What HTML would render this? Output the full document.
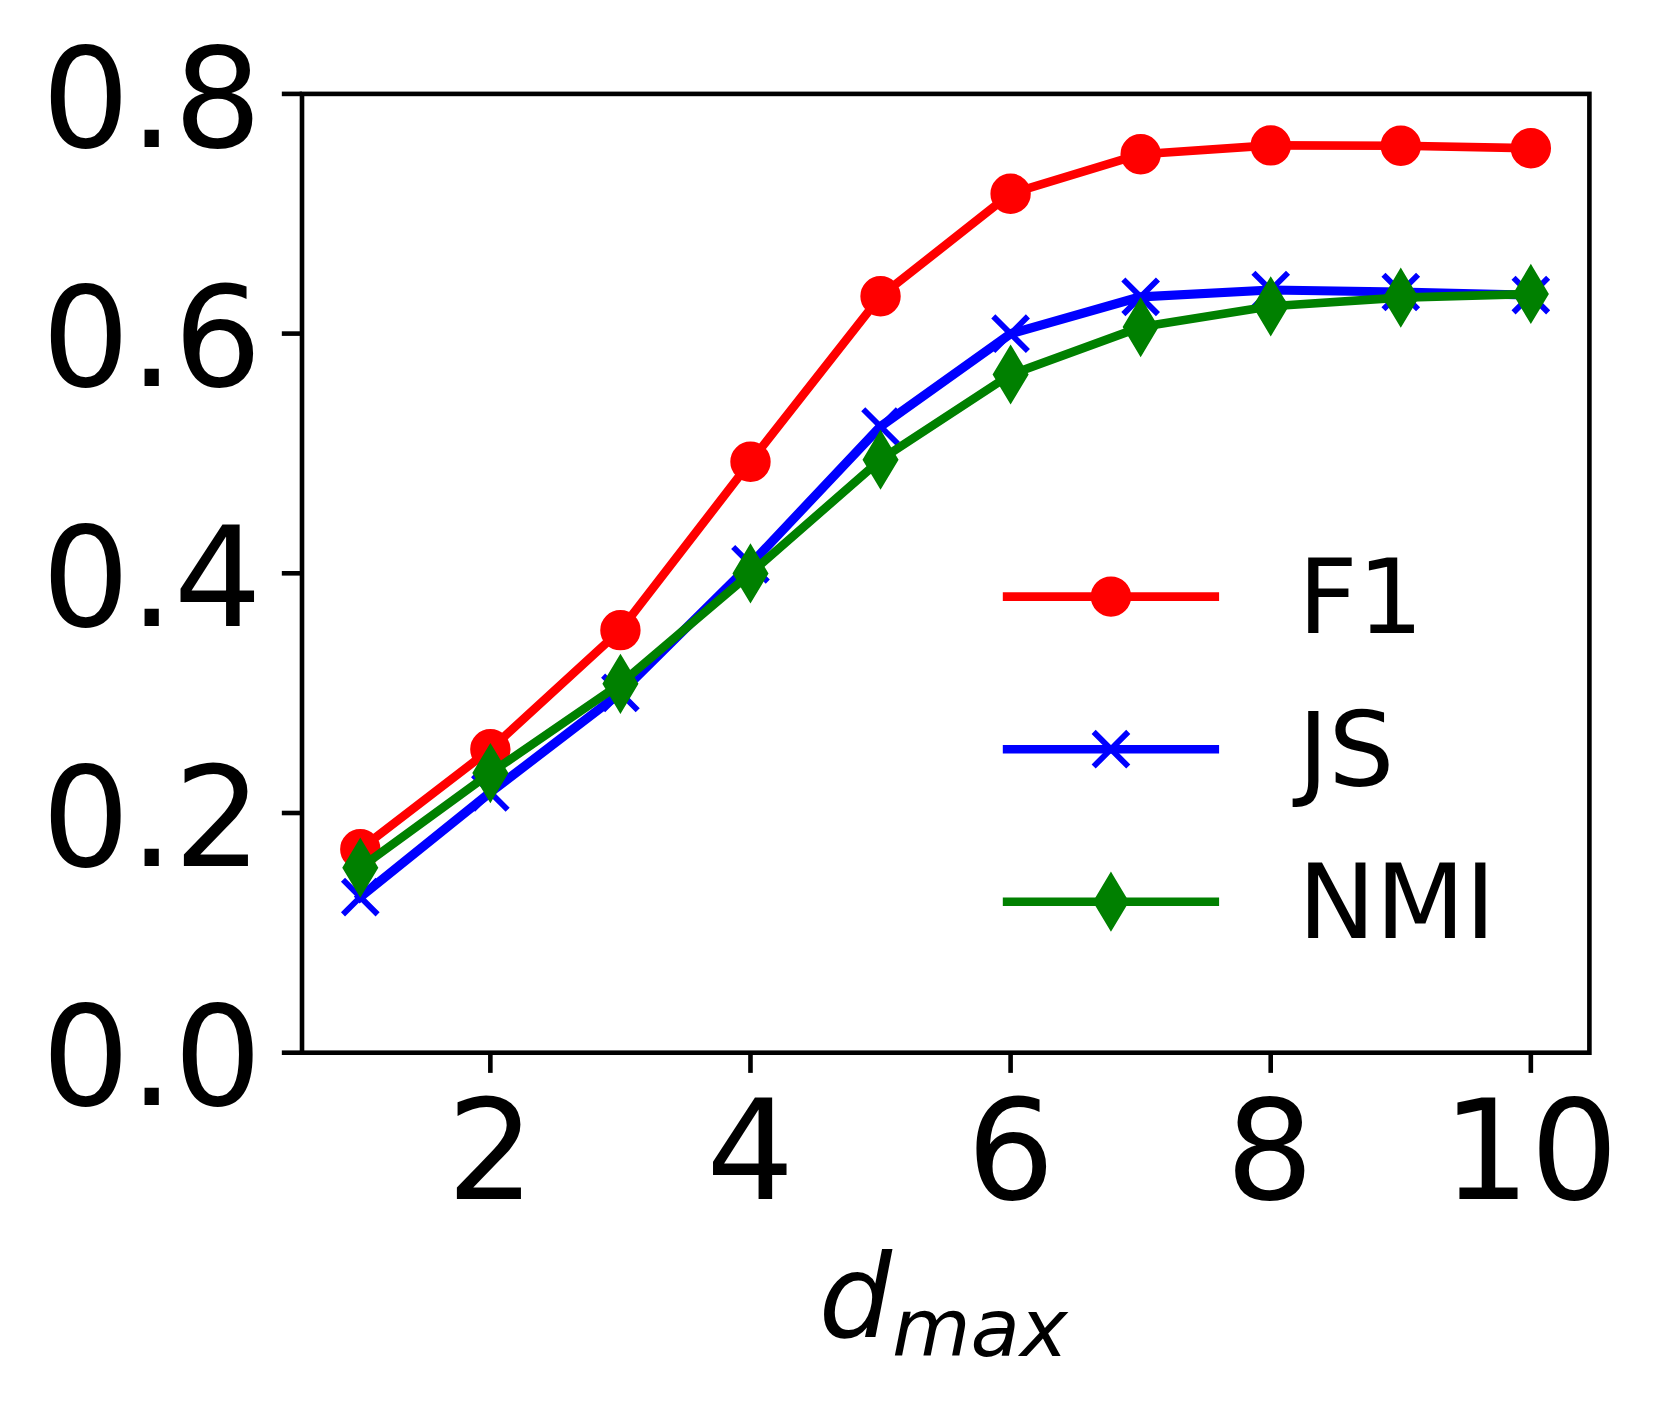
<!DOCTYPE html>
<html lang="en"><head><meta charset="utf-8"><title>d_max chart</title>
<style>html,body{margin:0;padding:0;background:#fff}svg{display:block}</style></head>
<body>
<svg width="1660" height="1407" viewBox="0 0 1660 1407">
<rect width="1660" height="1407" fill="#fff"/>
<g id="series">
<polyline points="360.30,849.30 490.36,749.30 620.42,630.15 750.48,461.70 880.54,296.20 1010.60,193.70 1140.66,154.20 1270.72,145.40 1400.78,145.80 1530.84,148.20" fill="none" stroke="#ff0000" stroke-width="8.65" stroke-linejoin="round" stroke-linecap="square"/>
<circle cx="360.30" cy="849.30" r="17.30" fill="#ff0000" stroke="#ff0000" stroke-width="5.77"/>
<circle cx="490.36" cy="749.30" r="17.30" fill="#ff0000" stroke="#ff0000" stroke-width="5.77"/>
<circle cx="620.42" cy="630.15" r="17.30" fill="#ff0000" stroke="#ff0000" stroke-width="5.77"/>
<circle cx="750.48" cy="461.70" r="17.30" fill="#ff0000" stroke="#ff0000" stroke-width="5.77"/>
<circle cx="880.54" cy="296.20" r="17.30" fill="#ff0000" stroke="#ff0000" stroke-width="5.77"/>
<circle cx="1010.60" cy="193.70" r="17.30" fill="#ff0000" stroke="#ff0000" stroke-width="5.77"/>
<circle cx="1140.66" cy="154.20" r="17.30" fill="#ff0000" stroke="#ff0000" stroke-width="5.77"/>
<circle cx="1270.72" cy="145.40" r="17.30" fill="#ff0000" stroke="#ff0000" stroke-width="5.77"/>
<circle cx="1400.78" cy="145.80" r="17.30" fill="#ff0000" stroke="#ff0000" stroke-width="5.77"/>
<circle cx="1530.84" cy="148.20" r="17.30" fill="#ff0000" stroke="#ff0000" stroke-width="5.77"/>
<polyline points="360.30,897.10 490.36,792.40 620.42,692.95 750.48,564.30 880.54,426.50 1010.60,333.70 1140.66,296.80 1270.72,290.00 1400.78,292.00 1530.84,295.10" fill="none" stroke="#0000ff" stroke-width="9.20" stroke-linejoin="round" stroke-linecap="square"/>
<path d="M343.00 879.80L377.60 914.40M343.00 914.40L377.60 879.80" stroke="#0000ff" stroke-width="5.77" fill="none"/>
<path d="M473.06 775.10L507.66 809.70M473.06 809.70L507.66 775.10" stroke="#0000ff" stroke-width="5.77" fill="none"/>
<path d="M603.12 675.65L637.72 710.25M603.12 710.25L637.72 675.65" stroke="#0000ff" stroke-width="5.77" fill="none"/>
<path d="M733.18 547.00L767.78 581.60M733.18 581.60L767.78 547.00" stroke="#0000ff" stroke-width="5.77" fill="none"/>
<path d="M863.24 409.20L897.84 443.80M863.24 443.80L897.84 409.20" stroke="#0000ff" stroke-width="5.77" fill="none"/>
<path d="M993.30 316.40L1027.90 351.00M993.30 351.00L1027.90 316.40" stroke="#0000ff" stroke-width="5.77" fill="none"/>
<path d="M1123.36 279.50L1157.96 314.10M1123.36 314.10L1157.96 279.50" stroke="#0000ff" stroke-width="5.77" fill="none"/>
<path d="M1253.42 272.70L1288.02 307.30M1253.42 307.30L1288.02 272.70" stroke="#0000ff" stroke-width="5.77" fill="none"/>
<path d="M1383.48 274.70L1418.08 309.30M1383.48 309.30L1418.08 274.70" stroke="#0000ff" stroke-width="5.77" fill="none"/>
<path d="M1513.54 277.80L1548.14 312.40M1513.54 312.40L1548.14 277.80" stroke="#0000ff" stroke-width="5.77" fill="none"/>
<polyline points="360.30,867.70 490.36,773.05 620.42,683.80 750.48,573.40 880.54,459.70 1010.60,374.50 1140.66,327.10 1270.72,306.30 1400.78,297.65 1530.84,293.95" fill="none" stroke="#008000" stroke-width="8.65" stroke-linejoin="round" stroke-linecap="square"/>
<path d="M360.30 843.23L374.98 867.70L360.30 892.17L345.62 867.70Z" fill="#008000" stroke="#008000" stroke-width="5.77" stroke-linejoin="miter" stroke-miterlimit="10"/>
<path d="M490.36 748.58L505.04 773.05L490.36 797.52L475.68 773.05Z" fill="#008000" stroke="#008000" stroke-width="5.77" stroke-linejoin="miter" stroke-miterlimit="10"/>
<path d="M620.42 659.33L635.10 683.80L620.42 708.27L605.74 683.80Z" fill="#008000" stroke="#008000" stroke-width="5.77" stroke-linejoin="miter" stroke-miterlimit="10"/>
<path d="M750.48 548.93L765.16 573.40L750.48 597.87L735.80 573.40Z" fill="#008000" stroke="#008000" stroke-width="5.77" stroke-linejoin="miter" stroke-miterlimit="10"/>
<path d="M880.54 435.23L895.22 459.70L880.54 484.17L865.86 459.70Z" fill="#008000" stroke="#008000" stroke-width="5.77" stroke-linejoin="miter" stroke-miterlimit="10"/>
<path d="M1010.60 350.03L1025.28 374.50L1010.60 398.97L995.92 374.50Z" fill="#008000" stroke="#008000" stroke-width="5.77" stroke-linejoin="miter" stroke-miterlimit="10"/>
<path d="M1140.66 302.63L1155.34 327.10L1140.66 351.57L1125.98 327.10Z" fill="#008000" stroke="#008000" stroke-width="5.77" stroke-linejoin="miter" stroke-miterlimit="10"/>
<path d="M1270.72 281.83L1285.40 306.30L1270.72 330.77L1256.04 306.30Z" fill="#008000" stroke="#008000" stroke-width="5.77" stroke-linejoin="miter" stroke-miterlimit="10"/>
<path d="M1400.78 273.18L1415.46 297.65L1400.78 322.12L1386.10 297.65Z" fill="#008000" stroke="#008000" stroke-width="5.77" stroke-linejoin="miter" stroke-miterlimit="10"/>
<path d="M1530.84 269.48L1545.52 293.95L1530.84 318.42L1516.16 293.95Z" fill="#008000" stroke="#008000" stroke-width="5.77" stroke-linejoin="miter" stroke-miterlimit="10"/>
</g>
<g stroke="#000" stroke-width="4.61" fill="none">
<line x1="490.36" y1="1052.7" x2="490.36" y2="1072.88"/>
<line x1="750.48" y1="1052.7" x2="750.48" y2="1072.88"/>
<line x1="1010.60" y1="1052.7" x2="1010.60" y2="1072.88"/>
<line x1="1270.72" y1="1052.7" x2="1270.72" y2="1072.88"/>
<line x1="1530.84" y1="1052.7" x2="1530.84" y2="1072.88"/>
<line x1="302.0" y1="1052.70" x2="281.82" y2="1052.70"/>
<line x1="302.0" y1="813.00" x2="281.82" y2="813.00"/>
<line x1="302.0" y1="573.30" x2="281.82" y2="573.30"/>
<line x1="302.0" y1="333.60" x2="281.82" y2="333.60"/>
<line x1="302.0" y1="93.90" x2="281.82" y2="93.90"/>
<rect x="302.0" y="93.9" width="1287.40" height="958.80" stroke-linejoin="miter"/>
</g>
<g font-family="DejaVu Sans, Liberation Sans, sans-serif" font-size="138.41" fill="#000">
<text x="261.80" y="1105.30" text-anchor="end">0.0</text>
<text x="261.80" y="865.60" text-anchor="end">0.2</text>
<text x="261.80" y="625.90" text-anchor="end">0.4</text>
<text x="261.80" y="386.20" text-anchor="end">0.6</text>
<text x="261.80" y="146.50" text-anchor="end">0.8</text>
<text x="490.86" y="1199.1" text-anchor="middle">2</text>
<text x="750.18" y="1199.1" text-anchor="middle">4</text>
<text x="1010.80" y="1199.1" text-anchor="middle">6</text>
<text x="1269.82" y="1199.1" text-anchor="middle">8</text>
<text x="1530.24" y="1199.1" text-anchor="middle">10</text>
</g>
<text font-family="DejaVu Sans, Liberation Sans, sans-serif" font-style="italic" font-size="115.34" x="818.7" y="1337.2" fill="#000">d<tspan font-size="80.74" dy="18.6">max</tspan></text>
<g id="legend">
<line x1="1007.13" y1="596.6" x2="1214.77" y2="596.6" stroke="#ff0000" stroke-width="8.65" stroke-linecap="square"/>
<circle cx="1110.95" cy="596.60" r="17.30" fill="#ff0000" stroke="#ff0000" stroke-width="5.77"/>
<line x1="1007.13" y1="749.2" x2="1214.77" y2="749.2" stroke="#0000ff" stroke-width="8.65" stroke-linecap="square"/>
<path d="M1093.65 731.90L1128.25 766.50M1093.65 766.50L1128.25 731.90" stroke="#0000ff" stroke-width="5.77" fill="none"/>
<line x1="1007.13" y1="901.7" x2="1214.77" y2="901.7" stroke="#008000" stroke-width="8.65" stroke-linecap="square"/>
<path d="M1110.95 877.23L1125.63 901.70L1110.95 926.17L1096.27 901.70Z" fill="#008000" stroke="#008000" stroke-width="5.77" stroke-linejoin="miter" stroke-miterlimit="10"/>
<g font-family="DejaVu Sans, Liberation Sans, sans-serif" font-size="103.81" fill="#000">
<text x="1297.9" y="632.7">F1</text>
<text x="1297.9" y="785.8">JS</text>
<text x="1297.9" y="937.9">NMI</text>
</g></g>
</svg>
</body></html>
